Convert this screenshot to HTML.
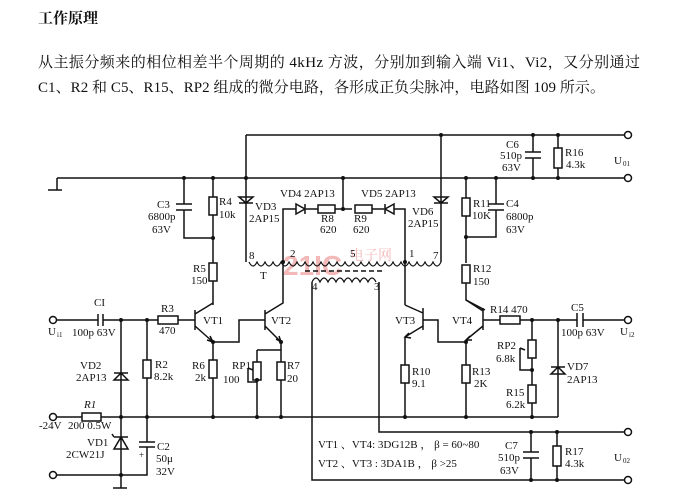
<!DOCTYPE html>
<html><head><meta charset="utf-8"><style>
body{margin:0;background:#fff;width:682px;height:503px;overflow:hidden}
svg{display:block}
text{font-family:"Liberation Serif","Noto Serif CJK SC",serif;font-size:11px;fill:#111}
.t{font-family:"Liberation Serif","Noto Serif CJK SC",serif;font-size:15px}
</style></head><body>
<svg width="682" height="503" viewBox="0 0 682 503" xmlns="http://www.w3.org/2000/svg" stroke="#111" stroke-width="1.5" fill="none">
<g stroke="none">
<text x="38" y="23" class="t" font-weight="bold" style="font-size:15px">工作原理</text>
<text x="38" y="67" class="t" textLength="602" lengthAdjust="spacing">从主振分频来的相位相差半个周期的 4kHz 方波，分别加到输入端 Vi1、Vi2，又分别通过</text>
<text x="38" y="92" class="t" textLength="567" lengthAdjust="spacing">C1、R2 和 C5、R15、RP2 组成的微分电路，各形成正负尖脉冲，电路如图 109 所示。</text>
<text x="283" y="275" style="font-size:28px;fill:#f3b8b8;font-weight:bold;font-family:'Liberation Sans',sans-serif">21IC</text>
<text x="350" y="260" style="font-size:14px;fill:#f3b8b8">电子网</text>
</g>
<!-- top rails -->
<path d="M246 135H624M57 178H624M57 178V190M48 190H62"/>
<circle cx="628" cy="135" r="3.5"/><circle cx="628" cy="178" r="3.5"/>
<!-- C3, R4, R5 -->
<path d="M184 178V204M184 210V238H213M176 204H192M176 210H192M213 178V197M213 215V263M213 281V305"/>
<rect x="209" y="197" width="8" height="18"/><rect x="209" y="263" width="8" height="18"/>
<!-- VD3 -->
<path d="M246 135V262M239 203H253M239 197H253L246 203Z"/>
<!-- primary winding -->
<path d="M249 262q4 8 8 0q4 8 8 0q4 8 8 0q4 8 8 0q4 8 8 0q4 8 8 0q4 8 8 0q4 8 8 0q4 8 8 0q4 8 8 0q4 8 8 0q4 8 8 0q4 8 8 0q4 8 8 0q4 8 8 0q4 8 8 0q4 8 8 0q4 8 8 0q4 8 8 0q4 8 8 0q4 8 8 0q4 8 8 0q4 8 8 0q4 8 8 0" stroke-width="1.2"/>
<path d="M305 271H385" stroke-dasharray="5 3"/>
<path d="M312 282q4 -8 8 0q4 -8 8 0q4 -8 8 0q4 -8 8 0q4 -8 8 0q4 -8 8 0q4 -8 8 0q4 -8 8 0" stroke-width="1.2"/>
<!-- VD4 R8 branch -->
<path d="M283 262V209H296M306 209H318M335 209H352M343 178V209M372 209H384M394 209H405V305"/>
<path d="M296 204V214L305 209Z M305 204V214"/>
<rect x="318" y="205" width="17" height="8"/><rect x="355" y="205" width="17" height="8"/>
<path d="M394 204V214L385 209Z M385 204V214"/>
<!-- VD6 -->
<path d="M441 135V262M434 203H448M434 197H448L441 203Z"/>
<!-- R11 C4 R12 -->
<path d="M466 178V198M466 216V263M496 178V204M496 210V237H466M488 204H504M488 210H504M466 283V300L485 310"/>
<rect x="462" y="198" width="8" height="18"/><rect x="462" y="265" width="8" height="18"/>
<!-- C6 R16 -->
<path d="M533 135V152M533 158V178M525 152H541M525 158H541M558 135V148M558 168V178"/>
<rect x="554" y="148" width="8" height="20"/>
<!-- secondary leads -->
<path d="M312 282V480H624M379 282V432H624"/>
<circle cx="628" cy="432" r="3.5"/><circle cx="628" cy="480" r="3.5"/>
<!-- C7 R17 -->
<path d="M531 432V452M531 458V480M523 452H539M523 458H539M557 432V446M557 466V480"/>
<rect x="553" y="446" width="8" height="20"/>
<!-- input -->
<circle cx="53" cy="320" r="3.5"/>
<path d="M57 320H98M98 314V326M103 314V326M103 320H158M178 320H195M195 310V330"/>
<rect x="158" y="316" width="20" height="8"/>
<!-- VT1 -->
<path d="M195 314L213 303M195 326L213 342M207 340L213 342L210 336"/>
<path d="M213 342H239V320H265M265 310V330M265 314L283 303V262M265 326L281 342"/>
<path d="M276 339L281 342L279 336"/>
<!-- R6 RP1 R7 -->
<path d="M213 342V360M213 378V417M281 342V362M281 380V417M257 350H281M257 350V362M257 380V417M248 368V382H257M248 368L253 370"/>
<rect x="209" y="360" width="8" height="18"/><rect x="253" y="362" width="8" height="18"/><rect x="277" y="362" width="8" height="18"/>
<!-- VD2 R2 -->
<path d="M121 320V417M114 373H128M114 380H128L121 373Z M147 320V360M147 378V417"/>
<rect x="143" y="360" width="8" height="18"/>
<!-- rail -->
<circle cx="53" cy="417" r="3.5"/>
<path d="M57 417H82M101 417H558"/>
<rect x="82" y="413" width="19" height="8"/>
<!-- VD1 C2 -->
<path d="M121 417V488M114 437H128M114 449H128L121 437Z M114 437L112 434M147 417V442M139 442H155M139 447H155M147 447V475H57M113 488H127"/>
<circle cx="53" cy="475" r="3.5"/>
<!-- VT3 -->
<path d="M405 305L423 313M423 308V330M423 320H438V342H466M423 326L405 337V365M405 383V417M409 333L405 337L411 338"/>
<rect x="401" y="365" width="8" height="18"/>
<!-- VT4 -->
<path d="M483 308V330M483 311L466 300M483 326L466 340V365M466 383V417M470 336L466 340L472 340M483 320H500M520 320H577M583 320H624"/>
<rect x="500" y="316" width="20" height="8"/>
<path d="M577 313V327M583 313V327"/>
<circle cx="628" cy="320" r="3.5"/>
<rect x="462" y="365" width="8" height="18"/>
<!-- RP2 R15 VD7 -->
<path d="M532 320V340M532 358V385M532 403V417M520 348V370H532M520 348L525 350M558 320V417M551 367H565M551 374H565L558 367Z"/>
<rect x="528" y="340" width="8" height="18"/><rect x="528" y="385" width="8" height="18"/>
<!-- dots -->
<g fill="#111" stroke="none">
<circle cx="184" cy="178" r="2"/><circle cx="213" cy="178" r="2"/><circle cx="213" cy="238" r="2"/><circle cx="246" cy="178" r="2"/>
<circle cx="343" cy="178" r="2"/><circle cx="343" cy="209" r="2"/><circle cx="441" cy="135" r="2"/><circle cx="466" cy="178" r="2"/><circle cx="496" cy="178" r="2"/><circle cx="466" cy="237" r="2"/>
<circle cx="533" cy="135" r="2"/><circle cx="558" cy="135" r="2"/><circle cx="533" cy="178" r="2"/><circle cx="558" cy="178" r="2"/>
<circle cx="121" cy="320" r="2"/><circle cx="147" cy="320" r="2"/><circle cx="213" cy="342" r="2"/><circle cx="281" cy="342" r="2"/>
<circle cx="121" cy="417" r="2"/><circle cx="147" cy="417" r="2"/><circle cx="213" cy="417" r="2"/><circle cx="257" cy="417" r="2"/><circle cx="281" cy="417" r="2"/>
<circle cx="121" cy="475" r="2"/><circle cx="405" cy="417" r="2"/><circle cx="466" cy="417" r="2"/><circle cx="532" cy="417" r="2"/><circle cx="466" cy="342" r="2"/>
<circle cx="532" cy="320" r="2"/><circle cx="558" cy="320" r="2"/><circle cx="532" cy="370" r="2"/><circle cx="257" cy="380" r="2"/>
<circle cx="531" cy="432" r="2"/><circle cx="557" cy="432" r="2"/><circle cx="531" cy="480" r="2"/><circle cx="557" cy="480" r="2"/>
<circle cx="283" cy="262" r="2"/><circle cx="405" cy="262" r="2"/>
</g>
<g stroke="none">
<text x="157" y="208">C3</text><text x="148" y="220">6800p</text><text x="152" y="233">63V</text>
<text x="219" y="205">R4</text><text x="219" y="218">10k</text>
<text x="193" y="272">R5</text><text x="191" y="284">150</text>
<text x="255" y="210">VD3</text><text x="249" y="222">2AP15</text>
<text x="280" y="197">VD4 2AP13</text><text x="321" y="222">R8</text><text x="320" y="233">620</text>
<text x="361" y="197">VD5 2AP13</text><text x="354" y="222">R9</text><text x="353" y="233">620</text>
<text x="412" y="215">VD6</text><text x="408" y="227">2AP15</text>
<text x="249" y="259">8</text><text x="290" y="257">2</text><text x="350" y="257">5</text><text x="409" y="257">1</text><text x="433" y="259">7</text>
<text x="260" y="279">T</text><text x="312" y="290">4</text><text x="374" y="290">3</text>
<text x="473" y="207">R11</text><text x="472" y="219">10K</text>
<text x="506" y="207">C4</text><text x="506" y="220">6800p</text><text x="506" y="233">63V</text>
<text x="473" y="272">R12</text><text x="473" y="285">150</text>
<text x="506" y="148">C6</text><text x="500" y="159">510p</text><text x="502" y="171">63V</text>
<text x="565" y="156">R16</text><text x="566" y="168">4.3k</text>
<text x="614" y="164">U</text><text x="623" y="166" style="font-size:7px">01</text>
<text x="94" y="306">CI</text><text x="72" y="336">100p 63V</text>
<text x="48" y="335">U</text><text x="57" y="337" style="font-size:7px">i1</text>
<text x="161" y="312">R3</text><text x="159" y="334">470</text>
<text x="203" y="324">VT1</text><text x="271" y="324">VT2</text>
<text x="80" y="369">VD2</text><text x="76" y="381">2AP13</text>
<text x="155" y="368">R2</text><text x="154" y="380">8.2k</text>
<text x="192" y="369">R6</text><text x="195" y="381">2k</text>
<text x="232" y="369">RP1</text><text x="223" y="383">100</text>
<text x="287" y="369">R7</text><text x="287" y="382">20</text>
<text x="84" y="408" font-style="italic">R1</text>
<text x="39" y="429">-24V</text><text x="68" y="429">200  0.5W</text>
<text x="87" y="446">VD1</text><text x="66" y="458">2CW21J</text>
<text x="157" y="450">C2</text><text x="156" y="462">50μ</text><text x="156" y="475">32V</text>
<text x="139" y="458" style="font-size:9px">+</text>
<text x="395" y="324">VT3</text><text x="452" y="324">VT4</text>
<text x="490" y="313">R14  470</text><text x="571" y="311">C5</text><text x="561" y="336">100p  63V</text>
<text x="620" y="335">U</text><text x="629" y="337" style="font-size:7px">i2</text>
<text x="497" y="349">RP2</text><text x="496" y="362">6.8k</text>
<text x="567" y="370">VD7</text><text x="567" y="383">2AP13</text>
<text x="412" y="375">R10</text><text x="412" y="387">9.1</text>
<text x="472" y="375">R13</text><text x="474" y="387">2K</text>
<text x="506" y="396">R15</text><text x="506" y="408">6.2k</text>
<text x="318" y="448">VT1 、VT4: 3DG12B ， β = 60~80</text>
<text x="318" y="467">VT2 、VT3 : 3DA1B ， β &gt;25</text>
<text x="505" y="449">C7</text><text x="498" y="461">510p</text><text x="500" y="474">63V</text>
<text x="565" y="455">R17</text><text x="565" y="467">4.3k</text>
<text x="614" y="461">U</text><text x="623" y="463" style="font-size:7px">02</text>
</g>
</svg>
</body></html>
